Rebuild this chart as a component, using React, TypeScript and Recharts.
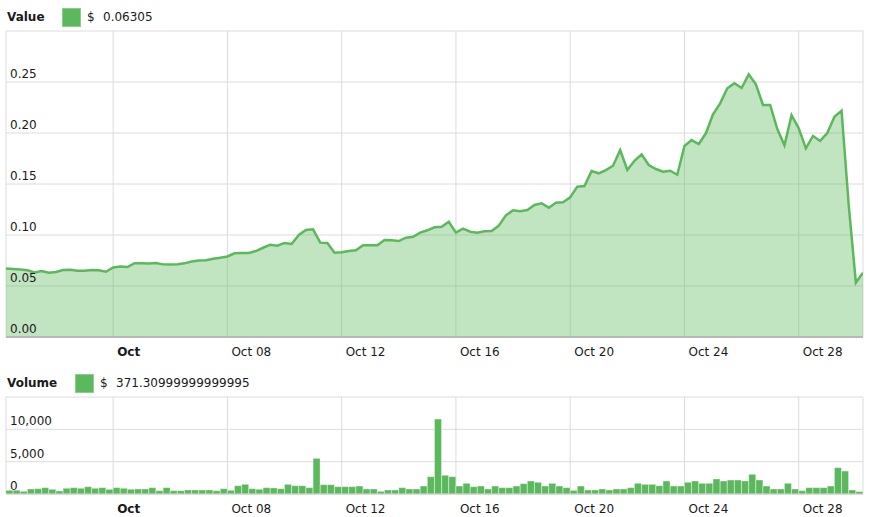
import React from 'react';
import { ComposedChart, Area, Bar, XAxis, YAxis, CartesianGrid } from 'recharts';

// 6-hourly samples, index 0..120
const prices = [
    0.0672, 0.0667, 0.0662, 0.0655, 0.0633, 0.0646, 0.0630, 0.0637, 0.0657, 0.0660,
    0.0650, 0.0650, 0.0656, 0.0655, 0.0640, 0.0682, 0.0690, 0.0686, 0.0724, 0.0723,
    0.0720, 0.0725, 0.0712, 0.0711, 0.0714, 0.0722, 0.0740, 0.0749, 0.0752, 0.0767,
    0.0778, 0.0790, 0.0821, 0.0823, 0.0824, 0.0843, 0.0875, 0.0905, 0.0895, 0.0922,
    0.0912, 0.1000, 0.1049, 0.1056, 0.0925, 0.0922, 0.0826, 0.0830, 0.0843, 0.0850,
    0.0899, 0.0899, 0.0899, 0.0951, 0.0948, 0.0941, 0.0974, 0.0983, 0.1023, 0.1046,
    0.1075, 0.1081, 0.1130, 0.1023, 0.1062, 0.1032, 0.1023, 0.1036, 0.1039, 0.1091,
    0.1193, 0.1242, 0.1232, 0.1245, 0.1294, 0.1311, 0.1268, 0.1317, 0.1321, 0.1370,
    0.1474, 0.1480, 0.1627, 0.1605, 0.1637, 0.1679, 0.1833, 0.1637, 0.1728, 0.1791,
    0.1686, 0.1647, 0.1621, 0.1630, 0.1591, 0.1873, 0.1931, 0.1892, 0.1997, 0.2183,
    0.2291, 0.2438, 0.2487, 0.2441, 0.2575, 0.2477, 0.2275, 0.2275, 0.2039, 0.1879,
    0.2174, 0.2046, 0.1850, 0.1971, 0.1922, 0.2000, 0.2160, 0.2219, 0.1294, 0.0532,
    0.06305,
];

// one bar per 6h interval
const volumes = [
    570, 570, 410, 770, 820, 980, 720, 460, 880, 980,
    880, 1130, 880, 980, 720, 980, 880, 720, 770, 770,
    980, 510, 980, 510, 510, 620, 620, 620, 620, 510,
    820, 570, 1280, 1490, 820, 720, 980, 930, 820, 1490,
    1280, 1280, 980, 5510, 1440, 1440, 1130, 1130, 1130, 1230,
    770, 770, 410, 620, 620, 980, 770, 770, 1230, 2680,
    11590, 2890, 2680, 1230, 1650, 1130, 1230, 770, 1230, 980,
    980, 1230, 1600, 2010, 1810, 1230, 1650, 1230, 980, 560,
    1230, 620, 620, 770, 620, 770, 770, 980, 1650, 1490,
    1490, 1280, 2010, 1230, 1230, 1810, 2010, 1650, 1650, 2320,
    2010, 2160, 2160, 2010, 3040, 2160, 1230, 770, 770, 1650,
    770, 510, 980, 980, 980, 1230, 4070, 3550, 620, 371.31,
];

const dateTicks = [15, 31, 47, 63, 79, 95, 111];
const dateLabels = ['Oct', 'Oct 08', 'Oct 12', 'Oct 16', 'Oct 20', 'Oct 24', 'Oct 28'];

const priceTicks = [0, 0.05, 0.1, 0.15, 0.2, 0.25, 0.3];
const priceLabels = ['0.00', '0.05', '0.10', '0.15', '0.20', '0.25', ''];

const volumeTicks = [0, 5000, 10000, 15000];
const volumeLabels = ['0', '5,000', '10,000', ''];

const priceData = prices.map((v, i) => ({ i, v }));
const volumeData = volumes.map((v, i) => ({ i: i + 0.5, v }));

const GREEN = '#5cb85c';
const FONT = '"DejaVu Sans", Verdana, sans-serif';
const TEXT = '#1a1a1a';

function DateTick({ x, y, payload }: any) {
    const idx = dateTicks.indexOf(payload.value);
    const label = idx >= 0 ? dateLabels[idx] : '';
    return (
        <text x={x + 4} y={y + 19} textAnchor="start" fontFamily={FONT} fontSize={12}
            fontWeight={label === 'Oct' ? 'bold' : 'normal'} fill={TEXT}>
            {label}
        </text>
    );
}

function makeYTick(ticks: number[], labels: string[]) {
    return ({ x, y, payload }: any) => {
        const idx = ticks.indexOf(payload.value);
        const label = idx >= 0 ? labels[idx] : '';
        if (!label) return <g />;
        return (
            <text x={x + 4} y={y - 4} textAnchor="start" fontFamily={FONT} fontSize={12} fill={TEXT}>
                {label}
            </text>
        );
    };
}

const PriceTick = makeYTick(priceTicks, priceLabels);
const VolumeTick = makeYTick(volumeTicks, volumeLabels);

function LegendRow({ title, value, swatchLeft, top }: { title: string; value: string; swatchLeft: number; top: number }) {
    return (
        <div style={{ position: 'absolute', left: 0, top, height: 20, width: 400, fontFamily: FONT, fontSize: 12, color: TEXT }}>
            <span style={{ position: 'absolute', left: 7, top: 2, fontWeight: 'bold' }}>{title}</span>
            <div style={{
                position: 'absolute', left: swatchLeft, top: 0, width: 19, height: 19,
                background: GREEN, border: '1px solid #8ccf8c', boxSizing: 'border-box',
            }} />
            <span style={{ position: 'absolute', left: swatchLeft + 25, top: 2 }}>$</span>
            <span style={{ position: 'absolute', left: swatchLeft + 41, top: 2 }}>{value}</span>
        </div>
    );
}

export default function App() {
    return (
        <div style={{ position: 'absolute', left: 0, top: 0, width: 869, height: 517, background: '#fff' }}>
            <LegendRow title="Value" value="0.06305" swatchLeft={62} top={8} />

            {/* Value chart */}
            <div style={{ position: 'absolute', left: 0, top: 0 }}>
                <ComposedChart width={869} height={368} data={priceData}
                    margin={{ top: 31, right: 6, left: 6, bottom: 0 }}>
                    <CartesianGrid stroke="#dcdcdc" strokeWidth={1} />
                    <XAxis dataKey="i" type="number" domain={[0, 120]} ticks={dateTicks} interval={0}
                        allowDataOverflow height={31} tickSize={0} tickMargin={0} tickLine={false}
                        axisLine={{ stroke: '#b8b8b8', strokeWidth: 2 }} tick={<DateTick />} />
                    <Area type="linear" dataKey="v" stroke={GREEN} strokeWidth={2.5} fill={GREEN}
                        fillOpacity={0.38} dot={false} activeDot={false} isAnimationActive={false} />
                    <YAxis type="number" domain={[0, 0.3]} ticks={priceTicks} interval={0} allowDataOverflow
                        mirror width={40} tickSize={0} tickMargin={0} tickLine={false} axisLine={false} tick={<PriceTick />} />
                </ComposedChart>
            </div>

            <LegendRow title="Volume" value="371.30999999999995" swatchLeft={75} top={374} />

            {/* Volume chart */}
            <div style={{ position: 'absolute', left: 0, top: 370 }}>
                <ComposedChart width={869} height={147} data={volumeData}
                    margin={{ top: 27, right: 6, left: 6, bottom: 0 }}>
                    <CartesianGrid stroke="#dcdcdc" strokeWidth={1} />
                    <XAxis dataKey="i" type="number" domain={[0, 120]} ticks={dateTicks} interval={0}
                        allowDataOverflow height={23} tickSize={0} tickMargin={0} tickLine={false}
                        axisLine={{ stroke: '#cccccc', strokeWidth: 1 }} tick={<DateTick />} />
                    <Bar dataKey="v" fill={GREEN} barSize={7} stroke="#ffffff" strokeOpacity={0.35}
                        strokeWidth={1} isAnimationActive={false} />
                    <YAxis type="number" domain={[0, 15000]} ticks={volumeTicks} interval={0} allowDataOverflow
                        mirror width={40} tickSize={0} tickMargin={0} tickLine={false} axisLine={false} tick={<VolumeTick />} />
                </ComposedChart>
            </div>
        </div>
    );
}
